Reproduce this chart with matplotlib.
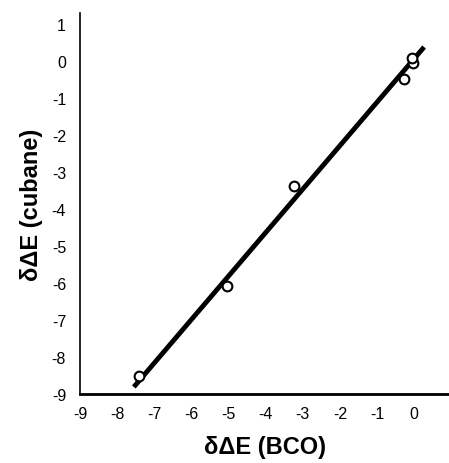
import matplotlib
matplotlib.use("Agg")
import matplotlib.pyplot as plt

# data
bco = [-7.41, -5.04, -3.23, -0.27, -0.02, -0.05]
cubane = [-8.51, -6.09, -3.37, -0.48, -0.05, 0.08]
fit_x = [-7.55, 0.27]
fit_y = [-8.81, 0.38]
x_ticks = [-9, -8, -7, -6, -5, -4, -3, -2, -1, 0]
y_ticks = [-9, -8, -7, -6, -5, -4, -3, -2, -1, 0, 1]

plt.rcParams['font.family'] = ['Liberation Sans', 'DejaVu Sans']

fig = plt.figure(figsize=(4.49, 4.64), dpi=100)
ax = fig.add_axes([80/449, 69/464, 1 - 80/449, (395-14)/464])

ax.plot(fit_x, fit_y, color='black', lw=3.5, solid_capstyle='butt', zorder=2)
ax.plot(bco, cubane, 'o', mfc='white', mec='black', mew=1.5, ms=7, zorder=3)

ax.set_xlim(-9, 0.94)
ax.set_ylim(-9, 1.3)
ax.set_xticks(x_ticks)
ax.set_yticks(y_ticks)
ax.set_xticklabels([str(t) if t >= 0 else '-' + str(-t) for t in x_ticks])
ax.set_yticklabels([str(t) if t >= 0 else '-' + str(-t) for t in y_ticks])
ax.tick_params(length=0, labelsize=11.5)
ax.tick_params(axis='x', pad=9)
ax.tick_params(axis='y', pad=10)

for s in ['top', 'right']:
    ax.spines[s].set_visible(False)
ax.spines['left'].set_linewidth(1.2)
ax.spines['bottom'].set_linewidth(2.0)

ax.set_xlabel('δΔE (BCO)', fontsize=17, fontweight='bold', labelpad=10)
ax.set_ylabel('δΔE (cubane)', fontsize=17, fontweight='bold', labelpad=6)

fig.savefig('out.png', dpi=100)
